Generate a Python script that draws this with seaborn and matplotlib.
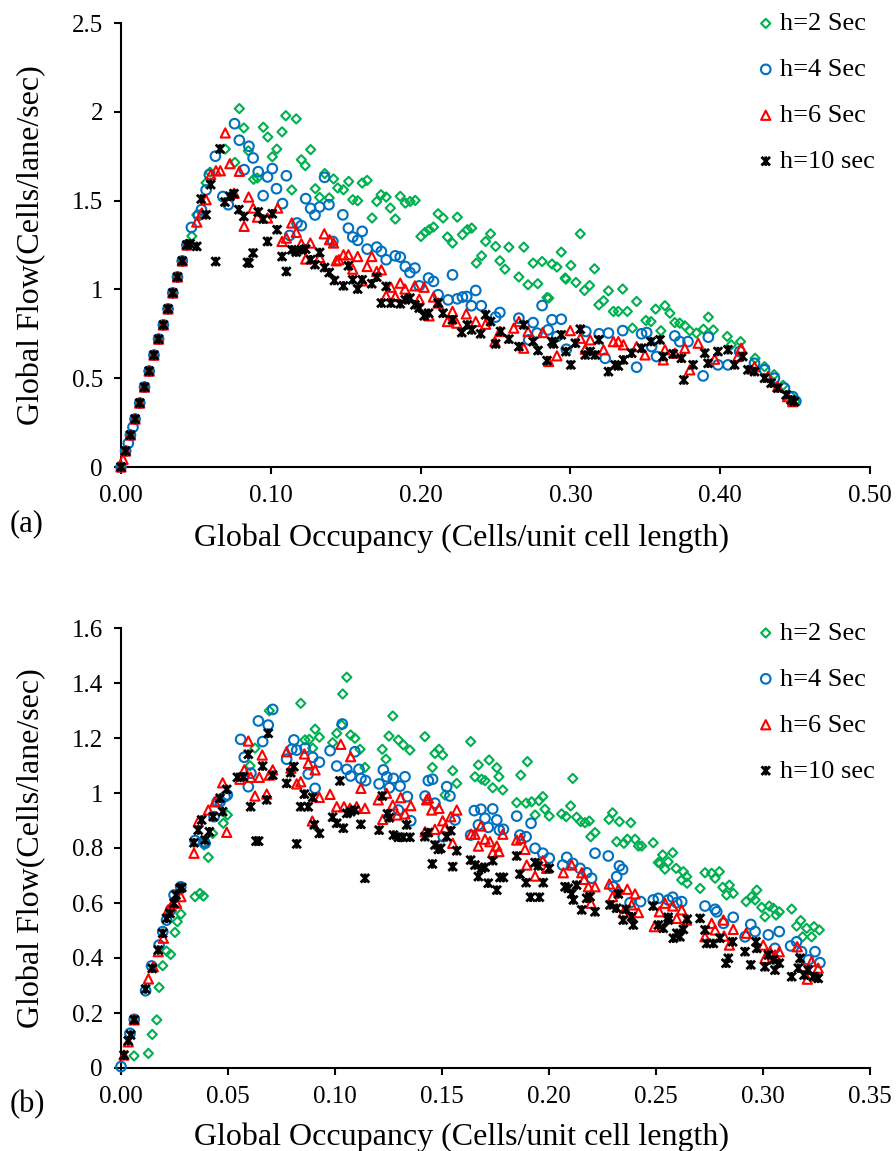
import matplotlib
matplotlib.use("Agg")
import matplotlib.pyplot as plt
import numpy as np
import pandas as pd
import seaborn as sns
from matplotlib.path import Path
from matplotlib.ticker import FuncFormatter

# ---------------- data ----------------
series_labels = ["h=2 Sec", "h=4 Sec", "h=6 Sec", "h=10 sec"]
series_colors = ["#00B050", "#0070C0", "#FF0000", "#000000"]

# (a) shared free-flow branch
a_base = [(0.000, 0.00), (0.0031, 0.09), (0.0063, 0.18), (0.0094, 0.27), (0.0125, 0.36),
          (0.0157, 0.45), (0.0188, 0.54), (0.0220, 0.63), (0.0251, 0.72), (0.0283, 0.80),
          (0.0314, 0.89), (0.0346, 0.98), (0.0377, 1.07), (0.0409, 1.16), (0.0440, 1.25)]

a_h2 = [(0.0473, 1.30), (0.0506, 1.42), (0.0568, 1.60), (0.0594, 1.66), (0.0696, 1.79), (0.076, 1.715),
        (0.079, 2.018), (0.082, 1.909), (0.085, 1.78), (0.0885, 1.62), (0.091, 1.627), (0.095, 1.913),
        (0.098, 1.858), (0.101, 1.747), (0.104, 1.79), (0.1075, 1.887), (0.110, 1.978), (0.114, 1.56),
        (0.117, 1.96), (0.1204, 1.73), (0.123, 1.697), (0.1266, 1.787), (0.1297, 1.567), (0.1326, 1.518),
        (0.136, 1.652), (0.139, 1.515), (0.1419, 1.622), (0.1447, 1.571), (0.1485, 1.561), (0.152, 1.608),
        (0.1547, 1.505), (0.158, 1.499), (0.161, 1.599), (0.1643, 1.614), (0.1676, 1.402), (0.1707, 1.495),
        (0.1736, 1.533), (0.177, 1.52), (0.1798, 1.458), (0.1831, 1.396), (0.1864, 1.524), (0.1898, 1.486),
        (0.193, 1.495), (0.1964, 1.501), (0.2002, 1.298), (0.203, 1.321), (0.2057, 1.336), (0.2086, 1.351),
        (0.2117, 1.426), (0.215, 1.402), (0.2179, 1.295), (0.2213, 1.261), (0.2245, 1.407), (0.2279, 1.308),
        (0.2312, 1.336), (0.2341, 1.345), (0.2372, 1.148), (0.2407, 1.189), (0.2434, 1.27), (0.2467, 1.313),
        (0.2501, 1.242), (0.2529, 1.161), (0.2563, 1.114), (0.2589, 1.238), (0.2656, 1.07), (0.2689, 1.238),
        (0.2717, 1.026), (0.2751, 1.148), (0.2782, 1.032), (0.2811, 1.157), (0.2844, 0.954), (0.2855, 0.951),
        (0.2877, 1.143), (0.291, 1.126), (0.2939, 1.21), (0.2965, 1.064), (0.2970, 1.058), (0.3003, 1.135),
        (0.3037, 1.039), (0.3066, 1.313), (0.3094, 0.994), (0.3128, 1.022), (0.3161, 1.116), (0.319, 0.913),
        (0.3221, 0.936), (0.3254, 0.992), (0.3287, 0.876), (0.332, 0.876), (0.3349, 1.002), (0.338, 0.876),
        (0.3414, 0.782), (0.3442, 0.932), (0.3504, 0.825), (0.3538, 0.819), (0.3569, 0.889), (0.3604, 0.767),
        (0.3631, 0.908), (0.3664, 0.866), (0.3697, 0.813), (0.373, 0.81), (0.3764, 0.795), (0.3797, 0.767),
        (0.3841, 0.754), (0.3888, 0.776), (0.3921, 0.844), (0.3954, 0.772), (0.4047, 0.735), (0.4074, 0.688),
        (0.4136, 0.706), (0.4233, 0.612), (0.4296, 0.565), (0.436, 0.52), (0.442, 0.46), (0.447, 0.40),
        (0.450, 0.37)]

a_h4 = [(0.0049, 0.134), (0.008, 0.224), (0.047, 1.349), (0.0517, 1.417), (0.0537, 1.449), (0.0568, 1.56),
        (0.059, 1.646), (0.063, 1.75), (0.068, 1.523), (0.0716, 1.477), (0.0758, 1.933), (0.079, 1.84),
        (0.0822, 1.674), (0.0854, 1.806), (0.0882, 1.74), (0.0916, 1.663), (0.0949, 1.528), (0.0978, 1.633),
        (0.101, 1.68), (0.1038, 1.567), (0.1078, 1.483), (0.1104, 1.64), (0.1126, 1.304), (0.1175, 1.374),
        (0.1204, 1.359), (0.1233, 1.511), (0.1266, 1.456), (0.1295, 1.419), (0.1326, 1.464), (0.1359, 1.631),
        (0.1388, 1.477), (0.1414, 1.27), (0.1481, 1.42), (0.1518, 1.345), (0.1547, 1.295), (0.158, 1.276),
        (0.161, 1.327), (0.1643, 1.227), (0.1707, 1.238), (0.1738, 1.214), (0.177, 1.167), (0.1831, 1.189),
        (0.1864, 1.182), (0.1898, 1.129), (0.1929, 1.095), (0.1962, 1.12), (0.1991, 1.02), (0.2053, 1.064),
        (0.2086, 1.045), (0.2117, 0.97), (0.2184, 0.941), (0.2213, 1.082), (0.2245, 0.947), (0.2279, 0.957),
        (0.2308, 0.96), (0.2339, 0.908), (0.2368, 0.994), (0.2405, 0.908), (0.2501, 0.844), (0.2529, 0.87),
        (0.2656, 0.838), (0.2722, 0.716), (0.2751, 0.813), (0.2777, 0.754), (0.2811, 0.909), (0.2851, 0.772),
        (0.2877, 0.829), (0.291, 0.735), (0.2939, 0.832), (0.2973, 0.663), (0.3103, 0.763), (0.3192, 0.75),
        (0.3232, 0.612), (0.3254, 0.754), (0.3349, 0.768), (0.3442, 0.562), (0.3475, 0.75), (0.3509, 0.757),
        (0.3542, 0.678), (0.3575, 0.622), (0.3697, 0.738), (0.373, 0.706), (0.3785, 0.706), (0.3886, 0.513),
        (0.3921, 0.731), (0.3985, 0.575), (0.4052, 0.575), (0.413, 0.65), (0.4229, 0.584), (0.4296, 0.547),
        (0.4362, 0.50), (0.4429, 0.444), (0.4484, 0.396), (0.4505, 0.37)]

a_h6 = [(0.0014, 0.043), (0.0506, 1.379), (0.0539, 1.43), (0.0568, 1.505), (0.0599, 1.646), (0.0634, 1.668),
        (0.0663, 1.668), (0.0696, 1.881), (0.0727, 1.708), (0.0756, 1.541), (0.079, 1.665), (0.0822, 1.355),
        (0.0852, 1.52), (0.0882, 1.458), (0.0911, 1.407), (0.0978, 1.402), (0.1046, 1.458), (0.1075, 1.27),
        (0.1104, 1.289), (0.114, 1.374), (0.117, 1.321), (0.1204, 1.257), (0.1233, 1.171), (0.1264, 1.261),
        (0.1326, 1.18), (0.1357, 1.313), (0.1392, 1.28), (0.1419, 1.261), (0.1437, 1.161), (0.1454, 1.167),
        (0.1485, 1.195), (0.1518, 1.195), (0.1547, 1.114), (0.158, 1.185), (0.161, 1.048), (0.1643, 1.129),
        (0.1674, 1.185), (0.1707, 1.101), (0.1738, 1.11), (0.177, 0.964), (0.1802, 1.012), (0.1831, 0.96),
        (0.1864, 1.035), (0.1896, 1.002), (0.1962, 1.02), (0.1991, 0.945), (0.2024, 1.012), (0.2057, 0.851),
        (0.2086, 0.957), (0.2117, 0.923), (0.2179, 0.819), (0.2213, 0.876), (0.2241, 0.81), (0.2305, 0.862),
        (0.2368, 0.819), (0.2434, 0.804), (0.2496, 0.706), (0.2529, 0.763), (0.2622, 0.782), (0.2656, 0.819),
        (0.2689, 0.669), (0.2717, 0.763), (0.2815, 0.757), (0.2855, 0.594), (0.291, 0.626), (0.2999, 0.768),
        (0.3066, 0.725), (0.3099, 0.663), (0.3132, 0.716), (0.3221, 0.66), (0.3287, 0.706), (0.332, 0.706),
        (0.3354, 0.688), (0.3442, 0.678), (0.3498, 0.631), (0.362, 0.603), (0.3631, 0.66), (0.3697, 0.641),
        (0.3764, 0.669), (0.3797, 0.547), (0.3853, 0.697), (0.3963, 0.607), (0.4118, 0.622), (0.414, 0.669),
        (0.4229, 0.565), (0.4318, 0.509), (0.4384, 0.453), (0.445, 0.396), (0.4484, 0.368)]

a_h10 = [(0.0461, 1.257), (0.0506, 1.242), (0.0535, 1.509), (0.0568, 1.42), (0.0599, 1.59), (0.0632, 1.157),
         (0.0661, 1.791), (0.0694, 1.492), (0.0727, 1.524), (0.0754, 1.539), (0.0787, 1.449), (0.082, 1.411),
         (0.0845, 1.152), (0.0854, 1.148), (0.0882, 1.205), (0.0916, 1.436), (0.0949, 1.396), (0.0978, 1.27),
         (0.101, 1.426), (0.1042, 1.336), (0.1075, 1.185), (0.1104, 1.101), (0.114, 1.223), (0.117, 1.21),
         (0.1204, 1.223), (0.1233, 1.227), (0.1266, 1.167), (0.1295, 1.139), (0.1326, 1.208), (0.1359, 1.123),
         (0.139, 1.095), (0.1425, 1.05), (0.1485, 1.02), (0.1518, 1.133), (0.1547, 1.054), (0.158, 1.002),
         (0.161, 1.054), (0.1674, 1.032), (0.1707, 1.069), (0.1738, 0.923), (0.177, 1.017), (0.1802, 0.923),
         (0.1864, 0.919), (0.1898, 0.941), (0.1929, 0.951), (0.1962, 0.913), (0.1991, 0.895), (0.2024, 0.851),
         (0.2053, 0.866), (0.2117, 0.923), (0.215, 0.866), (0.2213, 0.829), (0.2275, 0.757), (0.2312, 0.80),
         (0.2341, 0.772), (0.2401, 0.75), (0.2434, 0.857), (0.2467, 0.819), (0.2501, 0.693), (0.2534, 0.763),
         (0.2589, 0.72), (0.2656, 0.678), (0.2689, 0.80), (0.2751, 0.706), (0.2784, 0.656), (0.2844, 0.599),
         (0.2877, 0.706), (0.2888, 0.693), (0.2939, 0.744), (0.297, 0.65), (0.3003, 0.575), (0.3033, 0.697),
         (0.3066, 0.776), (0.3099, 0.631), (0.3132, 0.65), (0.3166, 0.631), (0.319, 0.716), (0.3254, 0.537),
         (0.3298, 0.575), (0.332, 0.569), (0.3354, 0.603), (0.3409, 0.641), (0.3475, 0.669), (0.3538, 0.706),
         (0.3598, 0.716), (0.362, 0.622), (0.3686, 0.637), (0.3741, 0.612), (0.3757, 0.49), (0.3819, 0.575),
         (0.3897, 0.641), (0.3919, 0.584), (0.3985, 0.65), (0.4052, 0.66), (0.4096, 0.575), (0.4151, 0.622),
         (0.4185, 0.547), (0.4229, 0.537), (0.4296, 0.50), (0.434, 0.472), (0.4384, 0.444), (0.444, 0.406),
         (0.4473, 0.378), (0.4495, 0.368)]

# (b)
b_h2 = [(0.0061, 0.044), (0.0128, 0.053), (0.0146, 0.122), (0.0167, 0.175), (0.0178, 0.293), (0.0195, 0.372),
        (0.0213, 0.425), (0.0232, 0.413), (0.0252, 0.493), (0.0263, 0.532), (0.028, 0.56), (0.0346, 0.623),
        (0.0369, 0.635), (0.0385, 0.625), (0.0388, 0.811), (0.0408, 0.766), (0.0428, 0.853), (0.0478, 0.89),
        (0.0497, 0.92), (0.0603, 1.099), (0.0626, 1.163), (0.0693, 1.299), (0.084, 1.326), (0.086, 1.193),
        (0.088, 1.195), (0.0896, 1.163), (0.0907, 1.232), (0.0927, 1.203), (0.0989, 1.183), (0.1008, 1.217),
        (0.1031, 1.247), (0.1036, 1.36), (0.1055, 1.421), (0.1073, 1.211), (0.1093, 1.199), (0.1117, 1.159),
        (0.114, 1.093), (0.1221, 1.159), (0.1238, 1.123), (0.1252, 1.207), (0.127, 1.28), (0.1296, 1.193),
        (0.1319, 1.175), (0.135, 1.156), (0.142, 1.205), (0.1455, 1.093), (0.1467, 1.144), (0.1486, 1.159),
        (0.1503, 1.138), (0.1514, 0.993), (0.155, 1.081), (0.1569, 1.035), (0.1634, 1.187), (0.1654, 1.059),
        (0.167, 1.102), (0.1685, 1.05), (0.1701, 1.045), (0.172, 1.12), (0.1737, 1.019), (0.1756, 1.092),
        (0.1766, 1.059), (0.1784, 1.011), (0.1849, 0.965), (0.1868, 1.065), (0.1893, 0.963), (0.1899, 1.114),
        (0.1919, 0.968), (0.1935, 0.92), (0.1953, 0.972), (0.1971, 0.987), (0.1981, 0.941), (0.2001, 0.916),
        (0.2059, 0.924), (0.208, 0.914), (0.2101, 0.953), (0.2111, 1.053), (0.2129, 0.912), (0.2148, 0.896),
        (0.2168, 0.892), (0.2188, 0.898), (0.2195, 0.841), (0.2215, 0.856), (0.228, 0.904), (0.2297, 0.928),
        (0.2316, 0.823), (0.2329, 0.896), (0.235, 0.817), (0.2366, 0.832), (0.2382, 0.892), (0.2402, 0.832),
        (0.2418, 0.807), (0.2433, 0.807), (0.2487, 0.819), (0.2511, 0.747), (0.2519, 0.744), (0.2531, 0.775),
        (0.2542, 0.723), (0.2557, 0.75), (0.2578, 0.783), (0.2594, 0.726), (0.262, 0.684), (0.2628, 0.714),
        (0.2643, 0.696), (0.2645, 0.672), (0.2706, 0.653), (0.2729, 0.71), (0.276, 0.708), (0.2776, 0.69),
        (0.2796, 0.714), (0.2812, 0.657), (0.283, 0.629), (0.2843, 0.665), (0.2861, 0.635), (0.2921, 0.605),
        (0.2947, 0.623), (0.2963, 0.611), (0.2971, 0.647), (0.2994, 0.584), (0.3009, 0.55), (0.3029, 0.589),
        (0.3048, 0.581), (0.3061, 0.556), (0.3076, 0.568), (0.3134, 0.578), (0.3157, 0.516), (0.3176, 0.536),
        (0.3185, 0.477), (0.3204, 0.508), (0.3227, 0.477), (0.3238, 0.514), (0.3263, 0.502)]

b_h4 = [(0.0, 0.005), (0.0042, 0.126), (0.0062, 0.177), (0.0115, 0.281), (0.0143, 0.371), (0.0178, 0.447),
        (0.0195, 0.496), (0.0213, 0.538), (0.0232, 0.575), (0.0248, 0.629), (0.0279, 0.659), (0.0346, 0.827),
        (0.0388, 0.823), (0.0393, 0.817), (0.0435, 0.914), (0.045, 0.968), (0.0463, 0.968), (0.0486, 0.987),
        (0.0497, 0.993), (0.0559, 1.195), (0.0576, 1.13), (0.0595, 1.023), (0.0607, 1.072), (0.0642, 1.262),
        (0.0662, 1.187), (0.0688, 1.247), (0.0709, 1.304), (0.0774, 1.123), (0.0798, 1.159), (0.0808, 1.193),
        (0.0821, 1.156), (0.086, 1.163), (0.0875, 1.069), (0.0896, 1.13), (0.0907, 1.017), (0.0927, 1.112),
        (0.0977, 1.154), (0.1008, 1.098), (0.1034, 1.251), (0.1055, 1.086), (0.1073, 1.062), (0.1093, 1.15),
        (0.1112, 1.086), (0.1121, 1.053), (0.1143, 1.045), (0.1206, 1.033), (0.1226, 1.084), (0.1242, 1.059),
        (0.1254, 1.019), (0.1273, 1.053), (0.1296, 0.938), (0.1304, 1.025), (0.1327, 1.059), (0.1338, 0.987),
        (0.1354, 0.899), (0.1421, 0.989), (0.1436, 1.045), (0.1456, 1.05), (0.1467, 0.963), (0.1506, 0.841),
        (0.1522, 1.023), (0.1537, 0.989), (0.1561, 0.902), (0.1634, 0.847), (0.1651, 0.936), (0.167, 0.884),
        (0.1682, 0.941), (0.1701, 0.908), (0.1716, 0.875), (0.1737, 0.942), (0.1756, 0.902), (0.1768, 0.865),
        (0.1787, 0.868), (0.1849, 0.916), (0.1864, 0.847), (0.1893, 0.841), (0.1916, 0.89), (0.1935, 0.799),
        (0.1971, 0.781), (0.2001, 0.763), (0.2064, 0.738), (0.2083, 0.766), (0.2111, 0.744), (0.2145, 0.726),
        (0.2176, 0.71), (0.2199, 0.69), (0.2215, 0.781), (0.2277, 0.771), (0.23, 0.659), (0.2316, 0.696),
        (0.2329, 0.735), (0.2344, 0.722), (0.2379, 0.601), (0.2428, 0.605), (0.2487, 0.611), (0.2511, 0.617),
        (0.2557, 0.611), (0.2578, 0.621), (0.2597, 0.601), (0.262, 0.605), (0.2729, 0.589), (0.2776, 0.577),
        (0.2784, 0.568), (0.2815, 0.526), (0.2861, 0.548), (0.2916, 0.477), (0.2943, 0.522), (0.2963, 0.496),
        (0.3025, 0.484), (0.3056, 0.435), (0.3076, 0.496), (0.3129, 0.444), (0.3157, 0.459), (0.318, 0.423),
        (0.3212, 0.393), (0.3243, 0.423), (0.3266, 0.383)]

b_h6 = [(0.0014, 0.047), (0.0034, 0.095), (0.0062, 0.175), (0.0128, 0.324), (0.0151, 0.368), (0.0174, 0.423),
        (0.0198, 0.472), (0.0221, 0.575), (0.0234, 0.587), (0.026, 0.599), (0.028, 0.623), (0.0341, 0.781),
        (0.0361, 0.896), (0.0408, 0.938), (0.0439, 0.968), (0.0475, 1.037), (0.0494, 0.857), (0.0556, 1.05),
        (0.0576, 1.084), (0.0595, 1.189), (0.0606, 1.057), (0.0626, 0.989), (0.0646, 1.057), (0.066, 1.138),
        (0.0681, 0.996), (0.0693, 1.065), (0.0709, 1.084), (0.0774, 1.15), (0.0794, 1.09), (0.0821, 1.033),
        (0.084, 1.041), (0.0857, 1.142), (0.0875, 1.108), (0.0894, 0.898), (0.0907, 1.084), (0.0927, 0.984),
        (0.0977, 0.995), (0.1008, 0.95), (0.1027, 1.177), (0.1042, 0.95), (0.107, 0.944), (0.1073, 1.132),
        (0.1101, 0.95), (0.1121, 1.017), (0.114, 0.944), (0.1202, 0.975), (0.1223, 0.904), (0.1241, 0.999),
        (0.127, 0.956), (0.1291, 0.92), (0.1307, 0.983), (0.1327, 0.924), (0.1354, 0.954), (0.1421, 0.859),
        (0.1428, 0.975), (0.1436, 0.981), (0.1452, 0.938), (0.1467, 0.868), (0.1486, 0.944), (0.1503, 0.899),
        (0.1514, 0.872), (0.1541, 0.914), (0.155, 0.817), (0.1569, 0.938), (0.1636, 0.85), (0.1654, 0.85),
        (0.167, 0.807), (0.1682, 0.88), (0.1701, 0.832), (0.1724, 0.823), (0.1737, 0.783), (0.1756, 0.807),
        (0.1766, 0.787), (0.1784, 0.85), (0.1849, 0.829), (0.1869, 0.835), (0.1888, 0.795), (0.1896, 0.738),
        (0.1935, 0.698), (0.1971, 0.754), (0.1989, 0.726), (0.2067, 0.71), (0.2106, 0.738), (0.2153, 0.71),
        (0.2164, 0.686), (0.2184, 0.659), (0.2196, 0.599), (0.2215, 0.659), (0.2282, 0.669), (0.2297, 0.623),
        (0.2324, 0.65), (0.2347, 0.565), (0.2366, 0.65), (0.2386, 0.593), (0.2402, 0.633), (0.2418, 0.565),
        (0.2492, 0.514), (0.2516, 0.568), (0.2542, 0.599), (0.2578, 0.589), (0.2597, 0.544), (0.262, 0.575),
        (0.2643, 0.538), (0.2729, 0.477), (0.276, 0.526), (0.2776, 0.502), (0.2815, 0.538), (0.2818, 0.48),
        (0.2843, 0.447), (0.2861, 0.504), (0.2921, 0.49), (0.3001, 0.447), (0.3009, 0.399), (0.3033, 0.423),
        (0.3056, 0.411), (0.3076, 0.423), (0.316, 0.441), (0.3185, 0.368), (0.3207, 0.323), (0.3227, 0.387),
        (0.3258, 0.363)]

b_h10 = [(0.0014, 0.047), (0.0034, 0.099), (0.0045, 0.12), (0.0062, 0.175), (0.0115, 0.287), (0.0146, 0.362),
         (0.0174, 0.429), (0.0195, 0.49), (0.0213, 0.544), (0.0229, 0.562), (0.0248, 0.599), (0.0257, 0.629),
         (0.0276, 0.653), (0.0284, 0.656), (0.0341, 0.819), (0.0361, 0.865), (0.0377, 0.902), (0.0393, 0.829),
         (0.0413, 0.859), (0.0431, 0.914), (0.0463, 0.981), (0.0475, 0.932), (0.0494, 1.013), (0.0544, 1.057),
         (0.0572, 1.059), (0.0595, 1.141), (0.0606, 0.95), (0.0631, 0.825), (0.0643, 0.825), (0.0662, 1.098),
         (0.0681, 0.975), (0.0688, 1.217), (0.0709, 1.065), (0.0774, 1.035), (0.0793, 1.074), (0.0808, 1.096),
         (0.0821, 0.815), (0.084, 0.95), (0.0857, 0.996), (0.0875, 0.95), (0.0896, 0.984), (0.0903, 0.884),
         (0.0927, 0.853), (0.0989, 0.912), (0.1008, 0.89), (0.1023, 1.044), (0.1039, 0.872), (0.1055, 0.926),
         (0.1073, 0.932), (0.1093, 0.938), (0.1121, 0.886), (0.114, 0.69), (0.1206, 0.865), (0.1221, 0.989),
         (0.1245, 0.924), (0.1254, 0.91), (0.1273, 0.847), (0.1296, 0.839), (0.1319, 0.839), (0.1335, 0.884),
         (0.135, 0.839), (0.142, 0.841), (0.1436, 0.856), (0.1455, 0.742), (0.1467, 0.811), (0.1483, 0.795),
         (0.1494, 0.799), (0.1522, 0.841), (0.1541, 0.863), (0.155, 0.732), (0.1569, 0.79), (0.1634, 0.756),
         (0.1654, 0.738), (0.167, 0.696), (0.1685, 0.726), (0.1701, 0.73), (0.1716, 0.672), (0.1737, 0.754),
         (0.1756, 0.647), (0.1771, 0.693), (0.1787, 0.693), (0.1849, 0.771), (0.1864, 0.705), (0.1893, 0.674),
         (0.1914, 0.621), (0.1935, 0.747), (0.195, 0.735), (0.1955, 0.621), (0.1973, 0.674), (0.2001, 0.726),
         (0.2075, 0.659), (0.209, 0.653), (0.2106, 0.633), (0.2114, 0.611), (0.2129, 0.665), (0.2153, 0.575),
         (0.2176, 0.617), (0.2192, 0.623), (0.2215, 0.568), (0.2285, 0.593), (0.2316, 0.581), (0.2324, 0.633),
         (0.2347, 0.538), (0.236, 0.577), (0.2386, 0.55), (0.2394, 0.52), (0.2487, 0.589), (0.2511, 0.52),
         (0.2534, 0.508), (0.2557, 0.538), (0.2557, 0.548), (0.2581, 0.472), (0.2597, 0.49), (0.2612, 0.477),
         (0.2628, 0.504), (0.2646, 0.541), (0.2706, 0.544), (0.2729, 0.502), (0.2737, 0.453), (0.2768, 0.453),
         (0.2799, 0.472), (0.2827, 0.381), (0.2838, 0.399), (0.2858, 0.459), (0.2916, 0.423), (0.2943, 0.375),
         (0.2967, 0.459), (0.2971, 0.435), (0.3009, 0.368), (0.3025, 0.411), (0.3048, 0.393), (0.3056, 0.356),
         (0.3076, 0.381), (0.3134, 0.332), (0.3165, 0.363), (0.3173, 0.399), (0.3192, 0.338), (0.3212, 0.356),
         (0.3235, 0.332), (0.3258, 0.326)]

a_xticks = [0.0, 0.1, 0.2, 0.3, 0.4, 0.5]
a_yticks = [0, 0.5, 1, 1.5, 2, 2.5]
b_xticks = [0.0, 0.05, 0.10, 0.15, 0.20, 0.25, 0.30, 0.35]
b_yticks = [0, 0.2, 0.4, 0.6, 0.8, 1.0, 1.2, 1.4, 1.6]

x_label = "Global Occupancy (Cells/unit cell length)"
y_label = "Global Flow(Cells/lane/sec)"

# ---------------- style ----------------
sns.set_theme(style="white")
plt.rcParams['font.family'] = ['Liberation Serif', 'DejaVu Serif']

star = Path([(-1, -1), (1, 1), (-1, 1), (1, -1), (0, -1.1), (0, 1.1)],
            [Path.MOVETO, Path.LINETO, Path.MOVETO, Path.LINETO, Path.MOVETO, Path.LINETO])
markers = ["D", "o", "^", star]
sizes = [22, 48, 44, 46]
lws = [1.5, 1.5, 1.5, 2.0]

W, H = 896, 1151
fig = plt.figure(figsize=(W / 100, H / 100), dpi=100)

def make_axes(top_px, bottom_px):
    return fig.add_axes([121 / W, 1 - bottom_px / H, (870 - 121) / W, (bottom_px - top_px) / H])

ax_a = make_axes(23, 467)
ax_b = make_axes(628, 1068)

def build_df(groups):
    rows = []
    for lab, pts in zip(series_labels, groups):
        for x, y in pts:
            rows.append({"occ": x, "flow": y, "series": lab})
    return pd.DataFrame(rows)

df_a = build_df([a_base + a_h2, a_base + a_h4, a_base + a_h6, a_base + a_h10])
df_b = build_df([b_h2, b_h4, b_h6, b_h10])

def draw(ax, df, xlim, ylim, xticks, yticks, leg_top, xlab_y):
    for lab, col, mk, s, lw in zip(series_labels, series_colors, markers, sizes, lws):
        sub = df[df["series"] == lab]
        sns.scatterplot(data=sub, x="occ", y="flow", ax=ax, marker=mk, s=s, color=col,
                        facecolors="none", edgecolor=col, linewidth=lw, label=lab,
                        clip_on=False, zorder=3)
    ax.set_xlim(*xlim)
    ax.set_ylim(*ylim)
    ax.set_xticks(xticks)
    ax.set_yticks(yticks)
    ax.xaxis.set_major_formatter(FuncFormatter(lambda v, p: f"{v:.2f}"))
    ax.yaxis.set_major_formatter(FuncFormatter(lambda v, p: f"{v:g}"))
    for sp in ["top", "right"]:
        ax.spines[sp].set_visible(False)
    for sp in ["left", "bottom"]:
        ax.spines[sp].set_color("black")
        ax.spines[sp].set_linewidth(1.5)
    ax.tick_params(axis="both", which="major", direction="out", length=5, width=1.5,
                   colors="black", labelsize=18, bottom=True, left=True)
    ax.tick_params(axis="x", pad=8)
    ax.tick_params(axis="y", pad=8)
    ax.set_xlabel(x_label, fontsize=23, color="black")
    ax.set_ylabel(y_label, fontsize=23, color="black")
    ax.xaxis.set_label_coords(0.455, xlab_y)
    ax.yaxis.set_label_coords(-0.1, 0.5)
    ax.grid(False)
    leg = ax.legend(loc="upper left", bbox_to_anchor=(0.852, leg_top), frameon=False,
                    fontsize=19, handlelength=0.5, handletextpad=0.28, borderpad=0,
                    borderaxespad=0, labelspacing=0.85, scatterpoints=1)
    for t in leg.get_texts():
        t.set_color("black")

draw(ax_a, df_a, (0, 0.5), (0, 2.5), a_xticks, a_yticks, 1.025, -0.127)
draw(ax_b, df_b, (0, 0.35), (0, 1.6), b_xticks, b_yticks, 1.015, -0.124)

fig.text(10 / W, 1 - 524 / H, "(a)", fontsize=22, ha="left", va="center", color="black")
fig.text(10 / W, 1 - 1105 / H, "(b)", fontsize=22, ha="left", va="center", color="black")

fig.savefig("out.png", dpi=100, facecolor="white")
